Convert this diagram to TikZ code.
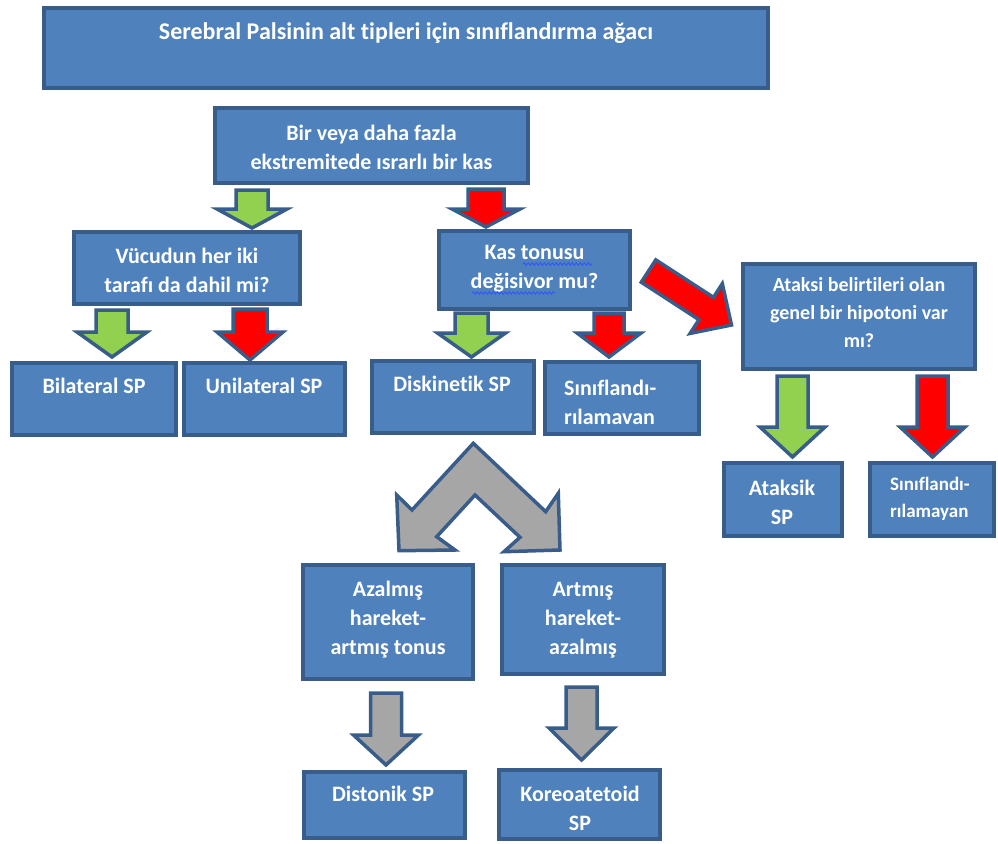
\documentclass[tikz,border=0pt]{standalone}
\usepackage{fontspec}
\setmainfont{Carlito}[Ligatures=NoCommon]
\usetikzlibrary{decorations.pathmorphing}

\definecolor{panelfill}{HTML}{4F81BD}
\definecolor{paneledge}{HTML}{385D8A}
\definecolor{yesgreen}{HTML}{92D050}
\definecolor{nored}{HTML}{FF0000}
\definecolor{flowgray}{HTML}{A6A6A6}
\definecolor{squiggle}{HTML}{3355FF}

% a panel given by its outer corners (x1,y1) and (x2,y2), in pixels
\newcommand\panel[5]{%
  \node[panel, minimum width={#4-#2-4}, minimum height={#5-#3-4}]
    (#1) at ({(#2+#4)/2},{(#3+#5)/2}) {};}

% a downward block arrow: style, centre x, top y, neck y, tip y, shaft half width, head half width
\newcommand\blockdown[7]{%
  \draw[#1] ({#2-#6},#3) -- ({#2+#6},#3) -- ({#2+#6},#4) -- ({#2+#7},#4)
    -- (#2,#5) -- ({#2-#7},#4) -- ({#2-#6},#4) -- cycle;}

\begin{document}
\begin{tikzpicture}[x=1pt,y=-1pt,
    panel/.style={draw=paneledge, line width=4pt, fill=panelfill, inner sep=0pt, outer sep=0pt},
    txt/.style={text=white, font=\bfseries\fontsize{22}{29}\selectfont, align=center, inner sep=0pt},
    titletxt/.style={txt, font=\bfseries\fontsize{24}{29}\selectfont},
    smalltxt/.style={txt, font=\bfseries\fontsize{20}{28}\selectfont},
    tinytxt/.style={txt, font=\bfseries\fontsize{19}{27}\selectfont},
    blk/.style={draw=paneledge, line width=3.5pt, line join=miter},
    greenblk/.style={blk, fill=yesgreen},
    redblk/.style={blk, fill=nored},
    grayblk/.style={blk, fill=flowgray},
    spell/.style={draw=squiggle, line width=0.9pt, decorate,
      decoration={snake, segment length=4pt, amplitude=1.2pt}}]
\useasboundingbox (0,0) rectangle (998,843);

% panels
\panel{title}{42}{6}{770}{90}
\panel{qa}{213}{106}{530}{185}
\panel{qb}{72}{230}{302}{306}
\panel{qc}{437}{229}{632}{311}
\panel{qd}{741}{262}{977}{371}
\panel{bil}{10}{361}{178}{437}
\panel{uni}{182}{361}{347}{437}
\panel{disk}{370}{359}{536}{435}
\panel{unc}{543}{360}{701}{436}
\panel{atak}{722}{461}{844}{538}
\panel{unh}{868}{461}{996}{538}
\panel{azal}{301}{563}{475}{681}
\panel{artm}{500}{563}{666}{676}
\panel{dist}{302}{770}{467}{840}
\panel{kore}{497}{768}{662}{841}

% texts
\node[titletxt] (ttitle) at (406,33) {Serebral Palsinin alt tipleri için sınıflandırma ağacı};
\node[txt] (tqa) at (371.5,147.5) {Bir veya daha fazla\\ekstremitede ısrarlı bir kas};
\node[txt] (tqb) at (187,270.5) {Vücudun her iki\\tarafı da dahil mi?};
\node[txt] (tqc) at (534.5,269) {Kas tonusu\\değisivor mu?};
\node[smalltxt] (tqd) at (859,313) {Ataksi belirtileri olan\\genel bir hipotoni var\\mı?};
\node[txt] (tbil) at (94,386) {Bilateral SP};
\node[txt] (tuni) at (264,386) {Unilateral SP};
\node[txt] (tdisk) at (452,384) {Diskinetik SP};
\node[txt, anchor=west, align=left] (tunc) at (564,402.5) {Sınıflandı-\\rılamavan};
\node[txt] (tatak) at (782,502) {Ataksik\\SP};
\node[tinytxt, anchor=west, align=left] (tunh) at (890,498.5) {Sınıflandı-\\rılamayan};
\node[txt] (tazal) at (388,620) {Azalmış\\hareket-\\artmış tonus};
\node[txt] (tartm) at (583,620) {Artmış\\hareket-\\azalmış};
\node[txt] (tdist) at (383,794) {Distonik SP};
\node[txt] (tkore) at (580,808.5) {Koreoatetoid\\SP};

% spell-check marks under the second question
\draw[spell] (523,264) -- (593,264);
\draw[spell] (472,293) -- (555,293);

% block arrows between the panels
\blockdown{greenblk}{252}{190}{209}{228}{16}{35}
\blockdown{redblk}{486}{189}{209}{227}{18}{34}
\blockdown{greenblk}{112}{310}{332}{357}{16}{35}
\blockdown{redblk}{250}{309}{332}{360}{17}{33}
\blockdown{greenblk}{471.5}{313}{333}{357}{16.5}{34}
\blockdown{redblk}{609}{313}{333}{357}{15}{32}
\blockdown{greenblk}{792.5}{376}{427}{457}{15.5}{32.5}
\blockdown{redblk}{932.5}{376}{427}{457}{15.5}{32.5}
\blockdown{grayblk}{386}{693}{735}{765}{15.5}{32.5}
\blockdown{grayblk}{581.5}{687}{728}{760}{15.5}{32.5}

% diagonal arrow towards the hypotonia question
\draw[redblk] (655.8,259.9) -- (713.5,297.4) -- (722.3,283.7) -- (731.5,325)
  -- (690.1,333.4) -- (699.0,319.7) -- (641.3,282.2) -- cycle;

% forked arrow below the dyskinetic panel
\draw[grayblk] (473.3,443.3) -- (545.7,511.7) -- (558.3,493.3) -- (560,550)
  -- (504,551.7) -- (520,537.3) -- (475,495) -- (436.7,536.7) -- (455,550)
  -- (399,550.7) -- (396.7,495) -- (412,510) -- cycle;
\end{tikzpicture}
\end{document}
